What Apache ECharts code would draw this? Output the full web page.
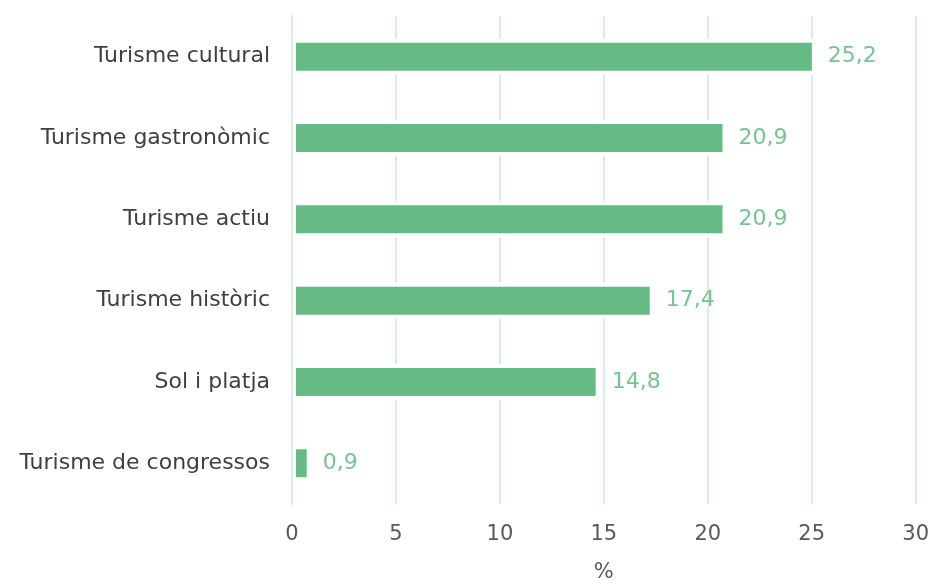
<!DOCTYPE html>
<html>
<head>
    <meta charset="utf-8">
    <title>Turisme</title>
    <script type="text/javascript" src="https://cdn.jsdelivr.net/npm/echarts@6/dist/echarts.min.js"></script>
    <style>
        html, body { margin: 0; padding: 0; background: #fff; }
    </style>
</head>
<body>
    <div id="main" style="width:932px;height:588px;"></div>
    <script type="text/javascript">
    // dades (de baix a dalt, com les llegeix l'eix de categories)
    var categories = ['Turisme de congressos', 'Sol i platja', 'Turisme històric', 'Turisme actiu', 'Turisme gastronòmic', 'Turisme cultural'];
    var values = [0.9, 14.8, 17.4, 20.9, 20.9, 25.2];
    var xTicks = { min: 0, max: 30, interval: 5 };

    var myChart = echarts.init(document.getElementById('main'));
    var font = 'DejaVu Sans';

    var option = {
        animation: false,
        grid: {
            left: 292,
            right: 16,
            top: 16,
            bottom: 82
        },
        xAxis: {
            type: 'value',
            min: xTicks.min,
            max: xTicks.max,
            interval: xTicks.interval,
            name: '%',
            nameLocation: 'middle',
            nameGap: 58,
            nameTextStyle: { color: '#595959', fontSize: 21, fontFamily: font },
            axisLine: { show: false },
            axisTick: { show: false },
            axisLabel: { color: '#595959', fontSize: 21, fontFamily: font, margin: 20 },
            splitLine: { lineStyle: { color: '#d9ede0', width: 2 } },
            z: 0
        },
        yAxis: {
            type: 'category',
            data: categories,
            z: 10,
            axisLine: { lineStyle: { color: '#d9ede0', width: 2 } },
            axisTick: { length: 7, lineStyle: { color: '#d9ede0', width: 2 } },
            axisLabel: { color: '#404040', fontSize: 22, fontFamily: font, margin: 22 }
        },
        series: [{
            type: 'bar',
            data: values,
            barWidth: 36,
            itemStyle: {
                color: '#66bb84',
                borderColor: '#ffffff',
                borderWidth: 4
            },
            label: {
                show: true,
                position: 'right',
                distance: 12,
                color: '#74c592',
                fontSize: 22,
                fontFamily: font,
                formatter: function (p) {
                    return p.value.toFixed(1).replace('.', ',');
                }
            }
        }]
    };
    myChart.setOption(option);
    </script>
</body>
</html>
